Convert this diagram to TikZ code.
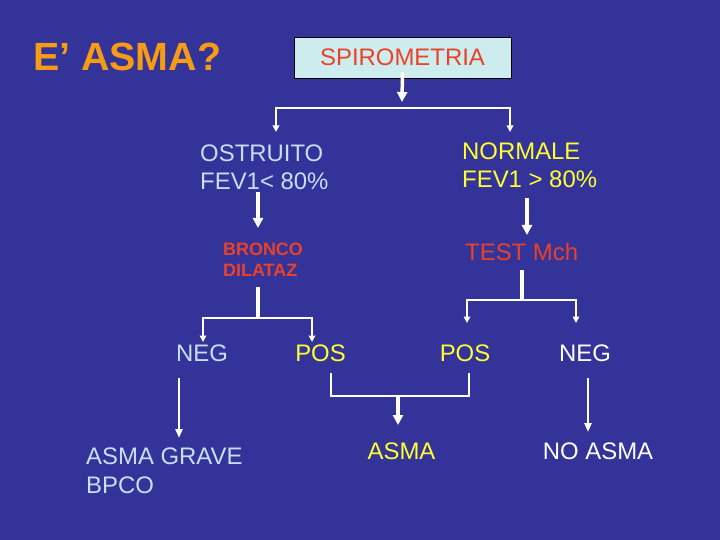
\documentclass[tikz,border=0pt]{standalone}
\usepackage{fontspec}
\setmainfont{Liberation Sans}
\usepackage{xcolor}
\usepackage{tikz}
\usetikzlibrary{arrows.meta}

\definecolor{slideblue}{RGB}{51,51,153}
\definecolor{titleorange}{RGB}{245,155,20}
\definecolor{testred}{RGB}{235,65,40}
\definecolor{boxcyan}{RGB}{204,236,238}
\definecolor{paleblue}{RGB}{200,222,250}
\definecolor{signyellow}{RGB}{255,255,51}

\begin{document}
\begin{tikzpicture}[
    x=1bp, y=-1bp,
    txt/.style={inner sep=0pt, anchor=base west, align=left, font=\fontsize{24}{29}\selectfont},
    ctxt/.style={inner sep=0pt, anchor=base, font=\fontsize{24}{29}\selectfont},
    box/.style={rectangle, draw=black, fill=boxcyan, minimum width=217bp, minimum height=41bp, text centered},
    wire/.style={draw=white, line width=1.8bp},
    brace/.style={wire, {Triangle[width=6.5bp,length=6.5bp]}-{Triangle[width=6.5bp,length=6.5bp]}},
    fat/.style={draw=white, line width=3.5bp, -{Triangle[width=10bp,length=10bp]}},
    mid/.style={draw=white, line width=2.6bp, -{Triangle[width=7bp,length=9bp]}}
]
    \fill[slideblue] (0,0) rectangle (720,540);
    \useasboundingbox (0,0) rectangle (720,540);

    % two-line nodes sit on the baseline of their last line
    \node[txt, text=titleorange, font=\fontsize{39.5}{44}\selectfont\bfseries] (title) at (33,71) {E’ ASMA?};
    \node[box, text=testred, font=\fontsize{24}{28}\selectfont] (spiro) at (402.5,57.5) {SPIROMETRIA};
    \node[txt, text=paleblue] (ostr) at (200,190) {OSTRUITO\\FEV1< 80\%};
    \node[txt, text=signyellow] (norm) at (462,188) {NORMALE\\FEV1 > 80\%};
    \node[txt, text=testred, font=\fontsize{18}{22}\selectfont\bfseries] (bronco) at (223,277) {BRONCO\\DILATAZ};
    \node[txt, text=testred] (test) at (465,261) {TEST Mch};
    \node[ctxt, text=paleblue] (neg1) at (202,361) {NEG};
    \node[ctxt, text=signyellow] (pos1) at (320.5,361) {POS};
    \node[ctxt, text=signyellow] (pos2) at (465,361) {POS};
    \node[ctxt, text=white] (neg2) at (585,361) {NEG};
    \node[txt, text=paleblue] (grave) at (86,493) {ASMA GRAVE\\BPCO};
    \node[ctxt, text=signyellow] (asma) at (401.5,459) {ASMA};
    \node[ctxt, text=white] (noasma) at (598,459) {NO ASMA};

    % end points of the connectors
    \coordinate (s1) at (402,102);
    \coordinate (ostrin) at (276,132);
    \coordinate (normin) at (510,132);
    \coordinate (split) at (510,108);
    \coordinate (o1) at (258,192);
    \coordinate (o2) at (258,228);
    \coordinate (n1) at (527,198);
    \coordinate (n2) at (527,235);
    \coordinate (b1) at (258,287);
    \coordinate (b2) at (258,318);
    \coordinate (negin) at (203,342);
    \coordinate (posin) at (312,342);
    \coordinate (t1) at (522,270);
    \coordinate (t2) at (522,300);
    \coordinate (pos2in) at (467,323);
    \coordinate (neg2in) at (576,323);
    \coordinate (g1) at (179,378);
    \coordinate (g2) at (179,438);
    \coordinate (pl) at (331,373);
    \coordinate (pr) at (469,373);
    \coordinate (pm) at (469,396);
    \coordinate (a1) at (398,396);
    \coordinate (a2) at (398,425);
    \coordinate (r1) at (588,378);
    \coordinate (r2) at (588,432);

    \draw[fat] ([yshift=6bp]spiro.south) -- (s1);
    \draw[brace] (ostrin) |- (split) -- (normin);
    \draw[fat] (o1) -- (o2);
    \draw[fat] (n1) -- (n2);
    \draw[draw=white, line width=3.5bp] (b1) -- (b2);
    \draw[brace] (negin) |- (b2) -| (posin);
    \draw[draw=white, line width=3.5bp] (t1) -- (t2);
    \draw[brace] (pos2in) |- (t2) -| (neg2in);
    \draw[mid] (g1) -- (g2);
    \draw[wire] (pl) |- (pm) -- (pr);
    \draw[fat] (a1) -- (a2);
    \draw[mid] (r1) -- (r2);
\end{tikzpicture}
\end{document}
